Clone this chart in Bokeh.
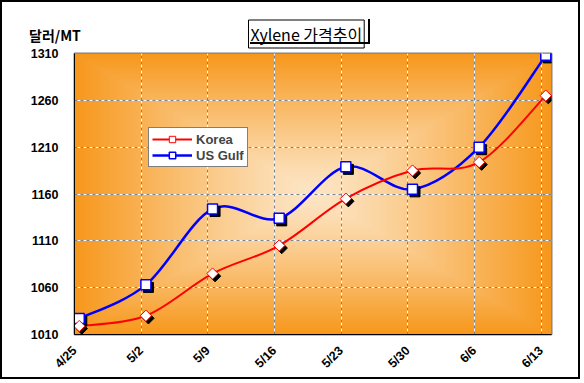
import numpy as np
from bokeh.plotting import figure
from bokeh.layouts import column
from bokeh.models import (Range1d, FixedTicker, Legend, LegendItem, Grid, ColumnDataSource, Div)
from bokeh.embed import file_html
from bokeh.resources import INLINE

# ---- data ----
dates = ["4/25", "5/2", "5/9", "5/16", "5/23", "5/30", "6/6", "6/13"]
days = [0, 7, 14, 21, 28, 35, 42, 49]
korea = [1019, 1030, 1075, 1105, 1155, 1185, 1194, 1265]
usgulf = [1027, 1063, 1144, 1134, 1189, 1165, 1210, 1308]
y_ticks = [1010, 1060, 1110, 1160, 1210, 1260, 1310]

FW, FH = 473, 277
X0, X1 = 0.0, 50.1
Y0, Y1 = 1010, 1310
pxx = FW / (X1 - X0)
pxy = FH / (Y1 - Y0)

xs = np.array(days, dtype=float) + 0.5   # points sit half a day right of the tick marks

p = figure(frame_width=FW, frame_height=FH, output_backend="svg", toolbar_location=None,
           x_range=Range1d(X0, X1), y_range=Range1d(Y0, Y1),
           min_border_left=72, min_border_top=51, min_border_right=31, min_border_bottom=47,
           background_fill_color="white", border_fill_color="white")
p.styles = {"border": "2px solid black", "box-sizing": "border-box"}

# gradient background (rectangular, from center)
nx, ny = 240, 140
gx = np.linspace(-1, 1, nx)
gy = np.linspace(-1, 1, ny)
GX, GY = np.meshgrid(gx, gy)
t = np.maximum(np.abs(GX), np.abs(GY)) ** 1.2
c0 = np.array([253, 230, 198])
c1 = np.array([247, 152, 28])
img = np.zeros((ny, nx), dtype=np.uint32)
view = img.view(dtype=np.uint8).reshape((ny, nx, 4))
for k in range(3):
    view[:, :, k] = (c0[k] + (c1[k] - c0[k]) * t).astype(np.uint8)
view[:, :, 3] = 255
p.image_rgba(image=[img], x=X0, y=Y0, dw=X1 - X0, dh=Y1 - Y0, level="image")

# axes
p.xaxis.ticker = FixedTicker(ticks=days)
p.xaxis.major_label_overrides = {d: lab for d, lab in zip(days, dates)}
p.xaxis.major_label_orientation = np.pi / 4
p.yaxis.ticker = FixedTicker(ticks=y_ticks)
for ax in (p.xaxis[0], p.yaxis[0]):
    ax.major_tick_out = 0
    ax.major_tick_in = 0
    ax.minor_tick_out = 0
    ax.minor_tick_in = 0
    ax.axis_line_color = "black"
    ax.axis_line_width = 1
    ax.major_label_text_font = "Liberation Sans"
    ax.major_label_text_font_style = "bold"
    ax.major_label_text_font_size = "12.5px"
    ax.major_label_text_color = "black"
p.yaxis.major_label_standoff = 16
p.xaxis.major_label_standoff = 14

p.outline_line_color = "#808080"
p.outline_line_width = 2

# grid: white under gray dashes
p.xgrid.ticker = FixedTicker(ticks=days[1:])
p.ygrid.ticker = FixedTicker(ticks=y_ticks[1:-1])
for g in (p.xgrid[0], p.ygrid[0]):
    g.grid_line_color = "white"
    g.grid_line_width = 1
    g.level = "underlay"
gx2 = Grid(dimension=0, ticker=FixedTicker(ticks=days[1:]), grid_line_color="#808080",
           grid_line_dash="3 3", grid_line_width=1, level="underlay")
gy2 = Grid(dimension=1, ticker=FixedTicker(ticks=y_ticks[1:-1]), grid_line_color="#808080",
           grid_line_dash="3 3", grid_line_width=1, level="underlay")
p.add_layout(gx2)
p.add_layout(gy2)


def smooth(xv, yv):
    xv = np.asarray(xv, float)
    yv = np.asarray(yv, float)
    n = len(xv)
    xp = np.concatenate([[xv[0]], xv, [xv[-1]]])
    yp = np.concatenate([[yv[0]], yv, [yv[-1]]])
    d = dict(x0=[], y0=[], x1=[], y1=[], cx0=[], cy0=[], cx1=[], cy1=[])
    for i in range(n - 1):
        a, b, c, e = i, i + 1, i + 2, i + 3
        d["x0"].append(xp[b]); d["y0"].append(yp[b])
        d["x1"].append(xp[c]); d["y1"].append(yp[c])
        d["cx0"].append(xp[b] + (xp[c] - xp[a]) / 6); d["cy0"].append(yp[b] + (yp[c] - yp[a]) / 6)
        d["cx1"].append(xp[c] - (xp[e] - xp[b]) / 6); d["cy1"].append(yp[c] - (yp[e] - yp[b]) / 6)
    return ColumnDataSource(d)


p.bezier(x0="x0", y0="y0", x1="x1", y1="y1", cx0="cx0", cy0="cy0", cx1="cx1", cy1="cy1",
         source=smooth(xs, usgulf), line_color="#0000FF", line_width=2.5)
p.bezier(x0="x0", y0="y0", x1="x1", y1="y1", cx0="cx0", cy0="cy0", cx1="cx1", cy1="cy1",
         source=smooth(xs, korea), line_color="#FF0000", line_width=2)

# marker shadows
sdx, sdy = 2.5 / pxx, 2.5 / pxy
p.scatter(xs + sdx, np.array(usgulf) - sdy, marker="square", size=10, fill_color="black", line_color="black")
p.scatter(xs + sdx, np.array(korea) - sdy, marker="square", angle=np.pi / 4, size=8,
          fill_color="black", line_color="black")

# markers
sq = p.scatter(xs, usgulf, marker="square", size=10, fill_color="white", line_color="#0000FF", line_width=1.5)
dm = p.scatter(xs, korea, marker="square", angle=np.pi / 4, size=8, fill_color="white",
               line_color="#FF0000", line_width=1)

# legend proxies (line part of legend entries)
lk = p.line(x=[np.nan], y=[np.nan], line_color="#FF0000", line_width=2)
lu = p.line(x=[np.nan], y=[np.nan], line_color="#0000FF", line_width=2.5)
legend = Legend(items=[LegendItem(label="Korea", renderers=[lk, dm]),
                       LegendItem(label="US Gulf", renderers=[lu, sq])],
                location=(74, 167), padding=3, margin=0, spacing=0,
                glyph_width=40, glyph_height=16, label_standoff=4,
                label_text_font="Liberation Sans", label_text_font_style="bold",
                label_text_font_size="13px", label_height=16,
                border_line_color="black", border_line_width=1,
                background_fill_color="white", background_fill_alpha=1)
p.add_layout(legend)

# title box
title_txt = "Xylene 가격추이"
p.title.text = title_txt
p.title.align = "left"
p.title.offset = 174
p.title.text_font = "Noto Sans CJK KR"
p.title.text_font_size = "16px"
p.title.text_font_style = "normal"
p.title.text_color = "black"
p.title.border_line_color = "black"
p.title.border_line_width = 1
p.title.background_fill_color = "white"
p.title.padding = 2
p.title.standoff = 11

# title box shadow (right and bottom edges)
shadow = Div(text="", styles={"position": "absolute", "left": "245px", "top": "14px",
                              "width": "120px", "height": "25px",
                              "border-right": "2px solid black", "border-bottom": "2px solid black",
                              "z-index": "9"})

# unit label
unit = Div(text="달러/MT",
           styles={"position": "absolute", "left": "24px", "top": "20px",
                   "font-family": "'Noto Sans CJK KR'", "font-weight": "bold",
                   "font-size": "14px", "color": "black", "z-index": "10"})

layout = column(p, unit, shadow)
open("out.html", "w").write(file_html(layout, INLINE))
